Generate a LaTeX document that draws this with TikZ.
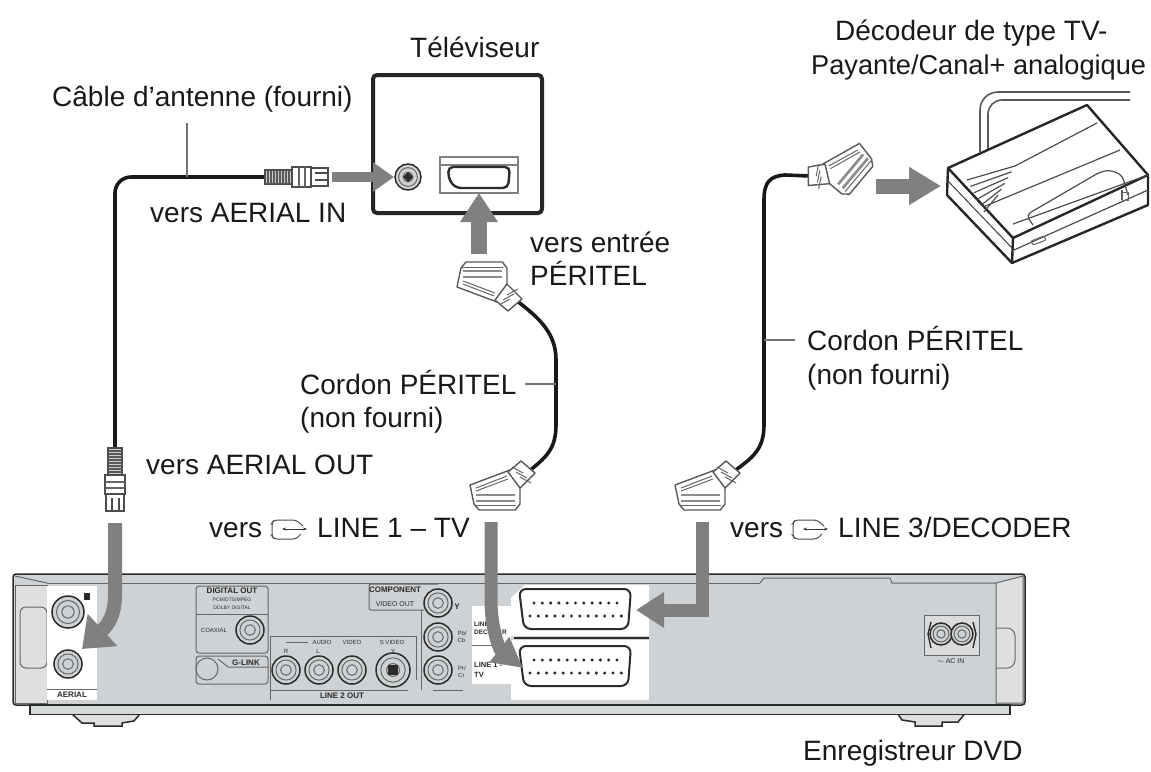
\documentclass[tikz,border=0pt]{standalone}
\usepackage{fontspec}
\setmainfont{Liberation Sans}
\usetikzlibrary{arrows.meta,positioning,calc}
\definecolor{panel}{HTML}{CFD2D4}
\definecolor{flow}{HTML}{808080}
\definecolor{ink}{HTML}{2B2B2B}
\tikzset{
  label/.style={font=\fontsize{28}{32}\selectfont, anchor=base west, inner sep=0pt, text=black!90},
  tiny/.style={font=\fontsize{8}{9}\selectfont\bfseries, inner sep=0pt, text=ink},
  cable/.style={line width=3.6pt, black!90},
  tick/.style={line width=1.6pt, black!55},
  outline/.style={line width=1.5pt, ink},
  thinline/.style={line width=1pt, black!60},
  flowtip/.style={-{Triangle[length=#1, width=36pt]}, line width=14pt, flow},
  flowtip/.default=30pt,
  jack/.pic={
    \draw[outline, fill=panel] (0,0) circle (#1);
    \draw[thinline] (0,0) circle ({#1*0.72});
    \draw[thinline] (0,0) circle ({#1*0.38});
  },
  scartplug/.pic={
    \draw[line width=1.4pt, black!65, fill=white, line join=round]
      (-25,-10) -- (15,-25) -- (25,-8) -- (25,9) -- (21,14) -- (21,15) -- (-16,15) -- (-21,9) -- cycle;
    \draw[line width=1.4pt, black!65, fill=white, line join=round]
      (13,-23) -- (26,-34) -- (40,-22) -- (25,-7) -- cycle;
    \foreach \lineno in {0,1,2} {
      \draw[thinline] ({17+\lineno*4},{-28+\lineno*5}) -- ({28+\lineno*4},{-16+\lineno*5-6});
    }
    \draw[thinline] (-19,-4) -- (13,-16);
    \draw[thinline] (-19,-7) -- (12,-19);
    \draw[line width=2.6pt, black!45] (-19,0) -- (20,0);
    \draw[line width=2.6pt, black!45] (-19,6) -- (20,6);
    \draw[thinline] (-21,10) -- (21,10);
  },
  aerialplug/.pic={
    \draw[line width=1.2pt, black!70, fill=black!20] (0,-7) rectangle (27,7);
    \foreach \ribx in {3,6,...,24} { \draw[line width=1.4pt, black!65] (\ribx,-7) -- (\ribx,7); }
    \draw[line width=1.4pt, black!70, fill=white] (27,-10) rectangle (46,10);
    \draw[line width=1.2pt, black!60] (34,-10) -- (34,10);
    \draw[line width=1.2pt, black!60] (40,-10) -- (40,10);
    \draw[line width=1.4pt, black!70, fill=white] (46,-9) rectangle (63,9);
    \draw[line width=1.6pt, black!70] (50,-4) -- (63,-4);
    \draw[line width=1.6pt, black!70] (50,3) -- (63,3);
  },
  outicon/.pic={
    \draw[line width=1pt, black!70, rounded corners=3pt] (31,-7) -- (24,-13) -- (2,-13) -- (0,-10) -- (0,3) -- (2,6) -- (24,6) -- (29,1);
    \draw[line width=.8pt, black!80, {Stealth[length=4pt]}-{Stealth[length=4pt]}] (10,-4) -- (35,-4);
  }
}
\begin{document}
\begin{tikzpicture}[x=1pt,y=-1pt]
\useasboundingbox (0,0) rectangle (1151,771);

% recorder feet and body
\draw[outline, fill=panel!70!white] (62,705) -- (82,723) -- (94,723) -- (94,726) -- (122,726) -- (122,723) -- (134,721) -- (140,714) -- cycle;
\draw[outline, fill=panel!70!white] (898,714) -- (902,720) -- (915,722) -- (915,726) -- (942,726) -- (942,722) -- (958,722) -- (972,705) -- cycle;
\draw[outline, fill=panel, rounded corners=3pt] (13,574) rectangle (1025,705);
\draw[outline, fill=panel!85!white] (30,705) rectangle (1010,714.5);
\draw[thinline, fill=panel!70!white] (15,585) rectangle (47,703);
\draw[thinline, rounded corners=6pt] (20,607) rectangle (47,668);
\draw[thinline] (47,583) -- (15,576);
\draw[thinline] (47,583) -- (760,583);
\draw[thinline] (760,583) -- (764,578) -- (890,578) -- (892,583) -- (996,583);
\draw[thinline, fill=panel!70!white] (996,583) -- (1023,576) -- (1023,703) -- (996,703) -- cycle;
\draw[thinline, rounded corners=8pt] (996,628) -- (1015,628) -- (1015,668) -- (996,668);

% aerial panel
\fill[white] (47,586) rectangle (97,700);
\draw[thinline] (47,689) -- (97,689);
\pic at (68,612) {jack=16};
\pic at (68,664) {jack=14};
\fill[ink] (84,593) rectangle (90,600);
\node[tiny] (aerialtext) at (72,695) {AERIAL};

% digital out
\draw[thinline, rounded corners=3pt] (196,586) rectangle (268,653);
\draw[thinline] (196,614) -- (268,614);
\node[tiny] (digitaltext) at (232,591) {DIGITAL OUT};
\node[tiny, font=\fontsize{5}{6}\selectfont] (dolbytext) at (232,600) {PCM/DTS/MPEG};
\node[tiny, font=\fontsize{5}{6}\selectfont] (dolbytexttwo) at (232,608) {DOLBY DIGITAL};
\node[tiny, font=\fontsize{6}{7}\selectfont] (coaxtext) at (214,630) {COAXIAL};
\pic at (250,630) {jack=14};
\draw[thinline, rounded corners=3pt] (196,656) rectangle (268,684);
\draw[thinline] (207,669) circle (11);
\draw[thinline] (218,659) -- (228,667) -- (268,667);
\node[tiny] (glinktext) at (246,663) {G-LINK};

% line 2 out
\draw[thinline] (270,700) -- (270,636) -- (416,636) -- (416,680);
\draw[thinline] (270,690) -- (408,690);
\draw[thinline] (286,642) -- (308,642);
\node[tiny, font=\fontsize{6}{7}\selectfont] (audiotext) at (322,642) {AUDIO};
\node[tiny, font=\fontsize{6}{7}\selectfont] (videotext) at (352,642) {VIDEO};
\node[tiny, font=\fontsize{6}{7}\selectfont] (svideotext) at (392,642) {S VIDEO};
\node[tiny, font=\fontsize{6}{7}\selectfont] (rtext) at (286,651) {R};
\node[tiny, font=\fontsize{6}{7}\selectfont] (ltext) at (318,651) {L};
\node[tiny, font=\fontsize{6}{7}\selectfont] (vtext) at (393,651) {Y};
\foreach \jackx in {286,319,352} { \pic at (\jackx,670) {jack=14}; }
\pic at (393,670) {jack=17};
\fill[ink] (388,665) rectangle (398,675);
\node[tiny] (linetwotext) at (342,696) {LINE 2 OUT};

% component
\draw[thinline, rounded corners=2pt] (438,584) -- (369,584) -- (369,610) -- (424,610);
\node[tiny] (comptext) at (395,590) {COMPONENT};
\node[tiny, font=\fontsize{7}{8}\selectfont] (comptexttwo) at (395,604) {VIDEO OUT};
\draw[thinline] (421,610) -- (421,690);
\foreach \jacky in {603,637,670} { \pic at (438,\jacky) {jack=14}; }
\node[tiny] (ytext) at (457,607) {Y};
\node[tiny, font=\fontsize{6}{7}\selectfont, align=left] (pbtext) at (462,637) {Pb/\\Cb};
\node[tiny, font=\fontsize{6}{7}\selectfont, align=left] (prtext) at (462,672) {Pr/\\Cr};
\draw[thinline] (433,690) -- (463,690);

% white label panel and scart sockets
\fill[white] (472,606) rectangle (511,684);
\draw[thinline] (472,645) -- (511,645);
\fill[white] (511,598) -- (525,585) -- (649,585) -- (649,636) -- (511,636) -- cycle;
\fill[white] (511,640) rectangle (649,700);
\draw[line width=1.6pt, ink] (514,638) -- (649,638);
\node[tiny, font=\fontsize{6.5}{8}\selectfont\bfseries, align=left, anchor=north west] (lineonelabel) at (474,622) {LINE 3/\\DECODER};
\node[tiny, font=\fontsize{7.5}{10}\selectfont\bfseries, align=left, anchor=north west] (linetwolabel) at (474,662) {LINE 1 -\\TV};
\foreach \socket in {589,646} {
  \draw[line width=2pt, ink, rounded corners=7pt, fill=white] (519,\socket) -- (631,\socket) -- (628,{\socket+40}) -- (524,{\socket+40}) -- cycle;
  \foreach \pin in {0,...,10} {
    \fill[ink] ({534+\pin*8.3},{\socket+14}) circle (1.7);
  }
  \foreach \pin in {0,...,11} {
    \fill[ink] ({530+\pin*8.3},{\socket+27}) circle (1.7);
  }
}

% ac in
\draw[thinline, fill=panel!80!white] (924,615) rectangle (979,655);
\draw[line width=1.4pt, ink, fill=white] (931,622) -- (928,634) -- (931,648);
\draw[line width=1.4pt, ink] (973,622) -- (976,634) -- (973,648);
\pic at (941,634) {jack=11};
\pic at (962,634) {jack=11};
\node[tiny, font=\fontsize{7}{8}\selectfont] (actext) at (951,661) {$\sim$ AC IN};

% tv
\draw[line width=4pt, black!85, rounded corners=4pt, fill=white] (373,75) rectangle (542,213);
\pic at (408,177) {jack=13};
\fill[ink] (408,172) -- (413,177) -- (408,182) -- (403,177) -- cycle;
\draw[line width=1.2pt, black!50] (440,157) rectangle (518,193);
\draw[line width=1.2pt, black!50] (440,165) -- (518,165);
\draw[line width=2.4pt, ink, rounded corners=5pt] (448,167) -- (510,167) -- (508,188) -- (456,188) -- (449,180) -- cycle;

% decoder
\draw[line width=1.6pt, black!65, rounded corners=18pt] (980,152) -- (980,92) -- (1130,92);
\draw[line width=1.6pt, black!65, rounded corners=14pt] (988,150) -- (988,100) -- (1130,100);
\draw[line width=2.4pt, black!85, fill=white, line join=round] (948,168) -- (1087,105) -- (1148,175) -- (1148,205) -- (1012,263) -- (947,195) -- cycle;
\draw[line width=2.4pt, black!85] (948,168) -- (1013,238) -- (1148,175);
\draw[line width=2.4pt, black!85] (1013,238) -- (1012,263);
\draw[line width=1pt, black!75] (947,180) -- (1012,248);
\draw[line width=1.2pt, black!70] (1015,166) -- (1097,123);
\draw[line width=1.2pt, black!70] (983,207) -- (1120,150);
\foreach \vent in {0,...,5} {
  \draw[line width=1.2pt, black!70] ({967+\vent*3.4},{180+\vent*6.4}) -- ({1015-\vent*3.4},{166+\vent*5.8});
}
\draw[line width=1.2pt, black!70, rounded corners=5pt] (1033,225) -- (1026,215) -- (1100,172) -- (1110,170) -- (1122,175) -- (1128,195);
\draw[line width=1.2pt, black!70] (1013,224) -- (1148,175);
\draw[line width=1.2pt, black!70] (1014,250) -- (1148,190);
\draw[line width=2pt, black!65] (1122,190) -- (1122,200);
\draw[thinline] (1122,192) rectangle (1128,200);
\draw[thinline, rounded corners=1pt] (1031,241) -- (1044,236) -- (1046,240) -- (1033,245) -- cycle;

% plugs, named ends for the cables
\coordinate (aerialtop) at (115,448);
\coordinate (aerialright) at (265,177);
\coordinate (tvscartend) at (512,297);
\coordinate (lowscartend) at (528,472);
\coordinate (linethreeend) at (733,472);
\coordinate (decoderend) at (810,176);

\draw[cable, rounded corners=16pt] (aerialtop) |- (aerialright);
\draw[cable] (tvscartend) .. controls (535,315) and (556,330) .. (556,360) -- (556,425) .. controls (556,450) and (545,458) .. (lowscartend);
\draw[cable] (linethreeend) .. controls (752,458) and (764,450) .. (764,425) -- (764,200) .. controls (764,182) and (770,176) .. (785,175) -- (decoderend);

\pic[rotate=-90] at (115,448) {aerialplug};
\pic at (265,177) {aerialplug};
\pic at (495,495) {scartplug};
\pic[yscale=-1] at (482,277) {scartplug};
\pic at (700,495) {scartplug};
\pic[rotate=50, xscale=-1] at (851,169) {scartplug};

% grey arrows
\coordinate (aerialinfrom) at (332,177);
\coordinate (aerialinto) at (394,177);
\coordinate (scartfrom) at (479,254);
\coordinate (scartto) at (479,193);
\coordinate (decoderfrom) at (876,186);
\coordinate (decoderto) at (941,186);
\coordinate (aerialfrom) at (115,523);
\coordinate (aerialto) at (82,649);
\coordinate (lineonefrom) at (491,522);
\coordinate (lineoneto) at (523,668);
\coordinate (linethreefrom) at (702,522);
\coordinate (linethreeto) at (636,610);

\draw[flowtip=21pt, {-{Triangle[length=21pt, width=28pt]}}, line width=10pt] (aerialinfrom) -- (aerialinto);
\draw[flowtip=29pt, line width=16pt] (scartfrom) -- (scartto);
\draw[flowtip=32pt, line width=15pt] (decoderfrom) -- (decoderto);
\draw[flowtip=28pt, {-{Triangle[length=28pt, width=42pt]}}, line width=14pt] (aerialfrom) -- (115,595) .. controls (115,615) and (108,625) .. (aerialto);
\draw[flowtip=30pt, {-{Triangle[length=30pt, width=30pt]}}, line width=13pt] (lineonefrom) -- (491,600) .. controls (491,630) and (500,650) .. (lineoneto);
\draw[flowtip=28pt, {-{Triangle[length=28pt, width=34pt]}}, line width=13pt] (linethreefrom) |- (linethreeto);

% ticks to the cables
\coordinate (antennafoot) at (187,123);
\coordinate (antennadot) at (187,177);
\coordinate (midleft) at (525,384);
\coordinate (midcable) at (556,384);
\coordinate (rightcable) at (764,340);
\coordinate (rightlabel) at (795,340);
\draw[tick] (antennafoot) -- (antennadot);
\draw[tick] (midleft) -- (midcable);
\draw[tick] (rightcable) -- (rightlabel);

% labels
\node[label] (tvlabel) at (410,57) {Téléviseur};
\node[label] (antennalabel) at (52,106) {Câble d’antenne (fourni)};
\node[label] (decoderlabelone) at (835,40) {Décodeur de type TV-};
\node[label, font=\fontsize{27.2}{32}\selectfont] (decoderlabeltwo) at (811,74) {Payante/Canal+ analogique};
\node[label] (aerialinlabel) at (150,222) {vers AERIAL IN};
\node[label] (entreelabel) at (530,252) {vers entrée};
\node[label] (peritellabel) at (530,285) {PÉRITEL};
\node[label] (cordonleft) at (300,394) {Cordon PÉRITEL};
\node[label] (nonfournileft) at (300,427) {(non fourni)};
\node[label] (cordonright) at (807,350) {Cordon PÉRITEL};
\node[label] (nonfourniright) at (807,384) {(non fourni)};
\node[label] (aerialoutlabel) at (146,474) {vers AERIAL OUT};
\node[label] (versone) at (209,537) {vers};
\pic at (272,533) {outicon};
\node[label] (lineonelabeltext) at (317,537) {LINE 1 -- TV};
\node[label] (versthree) at (730,537) {vers};
\pic at (793,533) {outicon};
\node[label] (linethreelabel) at (838,537) {LINE 3/DECODER};
\node[label] (recorderlabel) at (803,760) {Enregistreur DVD};
\end{tikzpicture}
\end{document}
